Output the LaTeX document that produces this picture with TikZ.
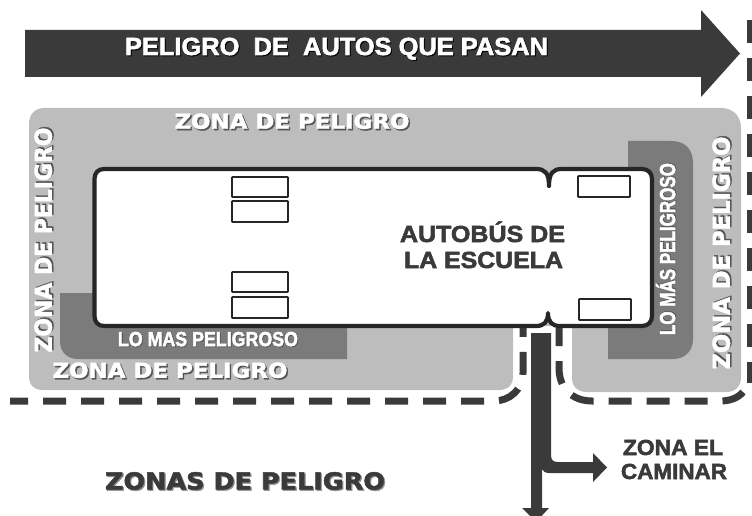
\documentclass[tikz,border=0pt]{standalone}
\usepackage{fontspec}
\usepackage{graphicx}
\setmainfont{Liberation Sans}[BoldFont={Liberation Sans Bold},BoldFeatures={FakeBold=2.4}]
\newfontfamily\blk{DejaVu Sans}[BoldFont={DejaVu Sans Bold},BoldFeatures={FakeBold=2}]
\definecolor{zonegray}{HTML}{BDBDBD}
\definecolor{hotgray}{HTML}{7B7B7B}
\definecolor{inkdark}{HTML}{3A3A3A}
\definecolor{shadowgray}{HTML}{555555}
\newcommand{\fitbox}[3]{\resizebox{#1pt}{#2pt}{\vphantom{H}\smash{#3}}}
\newcommand{\shad}[5]{\makebox[0pt][l]{\raisebox{-#4pt}{\hspace{#4pt}\textcolor{#5}{\fitbox{#1}{#2}{#3}}}}\fitbox{#1}{#2}{#3}}
\tikzset{
  lab/.style={inner sep=0pt,outer sep=0pt,font=\bfseries},
  zonelab/.style={lab,text=white,font=\blk\bfseries},
  hotlab/.style={lab,text=white},
  darklab/.style={lab,text=inkdark},
  zonefill/.style={fill=zonegray,draw=none},
  hotfill/.style={fill=hotgray,draw=none},
  busline/.style={draw=black!85,line width=4.2pt,fill=white,line join=round},
  seat/.style={draw=black!85,line width=1.9pt,fill=white,rounded corners=0.8pt},
  dashline/.style={draw=inkdark,line width=7pt,dash pattern=on 23pt off 15pt},
  walkarrow/.style={fill=inkdark,draw=none}
}
\begin{document}
\begin{tikzpicture}[x=1pt,y=-1pt]
\useasboundingbox (0,0) rectangle (752,516);
\clip (0,0) rectangle (752,516);
% top arrow
\fill[inkdark] (25,30) -- (701,30) -- (701,10) -- (740,53.5) -- (701,97) -- (701,77) -- (25,77) -- cycle;
% danger zone
\path[zonefill] (29,124) .. controls (29,114) and (35,108) .. (45,108) -- (721,108) .. controls (733,108) and (741,116) .. (741,128) -- (741,377) .. controls (741,387) and (735,392) .. (726,392) -- (587,392) .. controls (578,392) and (572,387) .. (572,378) -- (572,326) -- (513,326) -- (513,376) .. controls (513,385) and (508,390) .. (499,390) -- (43,390) .. controls (34,390) and (29,385) .. (29,376) -- cycle;
% most dangerous
\path[hotfill] (60,293) -- (347,293) -- (347,359) -- (78,359) .. controls (67,359) and (60,352) .. (60,341) -- cycle;
\path[hotfill] (628,141) -- (671,141) .. controls (685,141) and (693,149) .. (693,163) -- (693,339) .. controls (693,351) and (685,359) .. (673,359) -- (608,359) -- (608,300) -- (628,300) -- cycle;
% bus
\path[busline] (104,169) -- (536,169) .. controls (545,169) and (549,173) .. (549,186) .. controls (549,173) and (553,169) .. (562,169) -- (642,169) .. controls (648,169) and (652,173) .. (652,179) -- (652,316) .. controls (652,322) and (648,326) .. (642,326) -- (560,326) .. controls (552,326) and (548,322) .. (548,313) .. controls (548,322) and (544,326) .. (536,326) -- (104,326) .. controls (98,326) and (94.5,322) .. (94.5,316) -- (94.5,179) .. controls (94.5,173) and (98,169) .. (104,169) -- cycle;
% seats / wheels
\path[seat] (232,177) rectangle (288,197);
\path[seat] (232,201) rectangle (288,222);
\path[seat] (232,272) rectangle (288,292);
\path[seat] (232,297) rectangle (288,318);
\path[seat] (578,176) rectangle (630,197);
\path[seat] (579,299) rectangle (631,320);
% dashed boundaries
\path[dashline,dash phase=5pt] (10,401) -- (494,401) .. controls (510,401) and (523,389) .. (523,373) -- (523,328);
\path[dashline] (750,20) -- (750,383);
\path[dashline] (743,392) .. controls (738,398) and (730,401) .. (720,401) -- (592,401) .. controls (572,401) and (559,388) .. (559,368) -- (559,328);
% walking arrow
\path[walkarrow] (531,333) -- (551,333) -- (551,455) .. controls (551,460) and (553,462) .. (558,462) -- (593,462) -- (593,453) -- (607,467.5) -- (593,482) -- (593,473) -- (549,473) .. controls (545,473) and (542,471) .. (542,467) -- (542,508) -- (549,508) -- (536,522) -- (522,508) -- (531,508) -- cycle;
% labels
\node[hotlab] (arrowtext) at (336.5,47) {\shad{423}{17}{PELIGRO\ \ DE\ \ AUTOS QUE PASAN}{1}{black}};
\node[zonelab] (ztop) at (292,122) {\shad{235}{15}{ZONA DE PELIGRO}{1.5}{shadowgray}};
\node[zonelab,rotate=90] (zleft) at (44,240) {\shad{225}{17}{ZONA DE PELIGRO}{1.5}{shadowgray}};
\node[zonelab] (zbot) at (170,371) {\shad{235}{15}{ZONA DE PELIGRO}{1.5}{shadowgray}};
\node[zonelab,rotate=90] (zright) at (722,253) {\shad{233}{17}{ZONA DE PELIGRO}{1.5}{shadowgray}};
\node[hotlab] (hotbot) at (208,339.5) {\shad{180}{14}{LO MAS PELIGROSO}{0.8}{shadowgray}};
\node[hotlab,rotate=90] (hotright) at (668,249) {\shad{172}{15}{LO MÁS PELIGROSO}{0.8}{shadowgray}};
\node[darklab] (bus1) at (482.5,234) {\fitbox{165}{16}{AUTOBÚS DE}};
\node[darklab] (bus2) at (483.5,260) {\fitbox{159}{16}{LA ESCUELA}};
\node[darklab] (walk1) at (673,447.5) {\fitbox{100}{15}{ZONA EL}};
\node[darklab] (walk2) at (674,471.5) {\fitbox{106}{15}{CAMINAR}};
\node[darklab,font=\blk\bfseries] (title) at (245,481.5) {\shad{280}{17}{ZONAS DE PELIGRO}{1.2}{black!45}};
\end{tikzpicture}
\end{document}
